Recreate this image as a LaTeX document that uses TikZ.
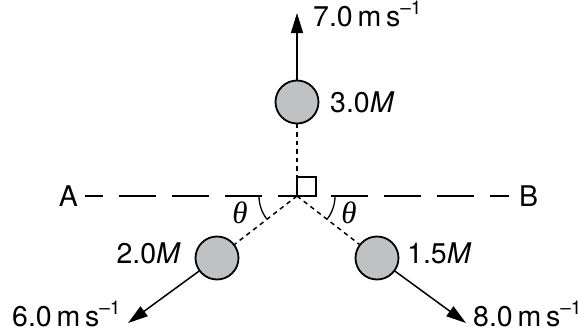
\documentclass[tikz,border=0pt]{standalone}
\usepackage{fontspec}
\setmainfont{TeX Gyre Heros}
\newfontfamily\thetafont{Liberation Serif}
\usetikzlibrary{arrows.meta}
\definecolor{ballgray}{RGB}{192,193,195}
\newcommand{\msunit}[1]{#1\,m\,s\raisebox{0.42em}{\fontsize{19}{20}\selectfont –1}}
\tikzset{
  ball/.style={circle,draw=black,line width=1.8pt,fill=ballgray,minimum size=43pt,inner sep=0pt},
  lbl/.style={inner sep=0pt,font=\fontsize{28.5}{32}\selectfont},
  thlbl/.style={inner sep=0pt,font=\fontsize{31}{34}\selectfont\thetafont\itshape},
  vel/.style={line width=1.5pt,-{Triangle[length=20pt,width=12pt]}},
  dots/.style={line width=1.5pt,dash pattern=on 4.5pt off 4pt},
  axis/.style={line width=2.4pt,dash pattern=on 37pt off 16pt,dash phase=19pt},
  ang/.style={line width=1.3pt}
}
\begin{document}
\begin{tikzpicture}[x=1pt,y=1pt]
\useasboundingbox (0,0) rectangle (584,333);
\coordinate (O) at (297,137);
\node[ball] (T) at (297,231) {};
\node[ball] (L) at (217,75) {};
\node[ball] (R) at (377,75) {};
\coordinate (Ttip) at (297,320);
\coordinate (Ltip) at (128,10);
\coordinate (Rtip) at (466,10);
\coordinate (Aend) at (85,137);
\coordinate (Bend) at (509,137);
% dashed line
\draw[axis] (Aend) -- (Bend);
% dotted lines
\draw[dots] (O) -- (T);
\draw[dots] (O) -- (L);
\draw[dots] (O) -- (R);
% right angle square
\draw[line width=1.2pt] (O) rectangle ++(19,19);
% angle arcs
\draw[ang] ([shift={(180:38)}]O) arc[start angle=180,end angle=217,radius=38];
\draw[ang] ([shift={(0:38)}]O) arc[start angle=0,end angle=-37,radius=38];
% velocity arrows
\draw[vel] (T) -- (Ttip);
\draw[vel] (L) -- (Ltip);
\draw[vel] (R) -- (Rtip);
% labels
\node[lbl,anchor=base west] (vT) at (313,307) {\msunit{7.0}};
\node[lbl,anchor=base west] (mT) at (330,221) {3.0\textit{M}};
\node[lbl,anchor=base east] (A) at (78,127) {A};
\node[lbl,anchor=base west] (B) at (519,127) {B};
\node[lbl,anchor=base east] (mL) at (181,70) {2.0\textit{M}};
\node[lbl,anchor=base west] (mR) at (407,70) {1.5\textit{M}};
\node[lbl,anchor=base west] (vL) at (12,7) {\msunit{6.0}};
\node[lbl,anchor=base west] (vR) at (473,7) {\msunit{8.0}};
\node[thlbl] (thL) at (240,120) {θ};
\node[thlbl] (thR) at (349,120) {θ};
\end{tikzpicture}
\end{document}
